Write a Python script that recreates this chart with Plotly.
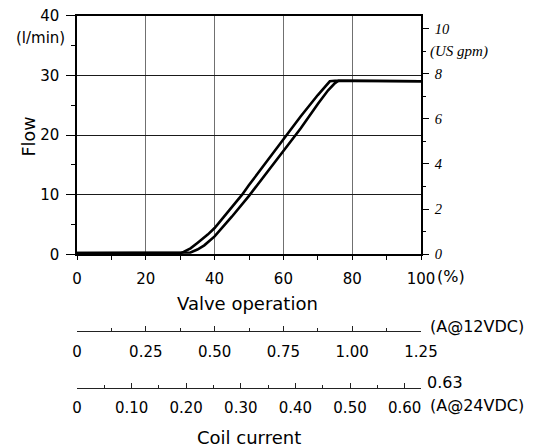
import plotly.graph_objects as go

# ---- data ----
valve_pct_up = [0, 10, 20, 30, 31, 33, 35, 38, 40, 45, 48, 50, 55, 60, 65, 70, 72, 73.5, 75, 80, 90, 100]
flow_up      = [0.2, 0.2, 0.2, 0.2, 0.4, 1.0, 1.9, 3.3, 4.4, 7.9, 10.0, 11.6, 15.5, 19.4, 23.1, 26.7, 28.1, 29.0, 29.1, 29.1, 29.0, 29.0]

valve_pct_dn = [0, 10, 20, 30, 33, 35, 37, 40, 45, 50, 55, 60, 65, 70, 73, 75, 76, 80, 90, 100]
flow_dn      = [0.2, 0.2, 0.2, 0.2, 0.3, 0.8, 1.5, 3.0, 6.3, 9.8, 13.6, 17.4, 21.1, 25.2, 27.5, 28.7, 29.1, 29.1, 29.0, 29.0]

x_ticks = [0, 20, 40, 60, 80, 100]
flow_ticks = [0, 10, 20, 30, 40]
gpm_ticks = [0, 2, 4, 6, 8, 10]
LPM_PER_GPM = 3.78541
flow_max = 40

amp12_ticks = [0, 0.25, 0.50, 0.75, 1.00, 1.25]
amp12_text = ["0", "0.25", "0.50", "0.75", "1.00", "1.25"]
amp12_max = 1.25
amp24_ticks = [0, 0.10, 0.20, 0.30, 0.40, 0.50, 0.60, 0.63]
amp24_text = ["0", "0.10", "0.20", "0.30", "0.40", "0.50", "0.60", ""]
amp24_minor = [0.05, 0.15, 0.25, 0.35, 0.45, 0.55]
amp24_max = 0.63

W, H = 541, 448
def px(x):
    return x / W
def py(y):
    return 1 - y / H

SANS = "DejaVu Sans, Verdana, sans-serif"
SERIF = "Liberation Serif, Times New Roman, serif"

fig = go.Figure()
for xs, ys in [(valve_pct_up, flow_up), (valve_pct_dn, flow_dn)]:
    fig.add_trace(go.Scatter(x=xs, y=ys, mode="lines",
                             line=dict(color="black", width=2.6),
                             showlegend=False, hoverinfo="skip"))

dom_x = [px(77), px(421)]

fig.update_layout(
    width=W, height=H,
    margin=dict(l=0, r=0, t=0, b=0, autoexpand=False),
    paper_bgcolor="white", plot_bgcolor="white",
    font=dict(family=SANS, color="black", size=15),
    xaxis=dict(domain=dom_x, range=[0, 100], tickvals=x_ticks,
               showline=True, linecolor="black", linewidth=1.5, mirror=True,
               ticks="outside", ticklen=4, tickcolor="black", tickwidth=1.2,
               minor=dict(dtick=10, ticks="outside", ticklen=4, tickcolor="black", tickwidth=1.2, showgrid=False),
               showgrid=True, gridcolor="#707070", gridwidth=1.4, zeroline=False,
               tickfont=dict(family=SANS, size=15), ticklabelstandoff=6,
               automargin=False, layer="below traces"),
    yaxis=dict(domain=[py(254.3), py(15.7)], range=[0, flow_max], tickvals=flow_ticks,
               showline=True, linecolor="black", linewidth=1.5,
               ticks="outside", ticklen=9, tickcolor="black", tickwidth=1.2,
               minor=dict(dtick=5, ticks="outside", ticklen=4, tickcolor="black", tickwidth=1.2, showgrid=False),
               showgrid=True, gridcolor="#1a1a1a", gridwidth=1, zeroline=False,
               tickfont=dict(family=SANS, size=15), ticklabelstandoff=4,
               automargin=False),
    yaxis2=dict(overlaying="y", side="right", anchor="x",
                range=[0, flow_max / LPM_PER_GPM], tickvals=gpm_ticks,
                showline=True, linecolor="black", linewidth=1.5,
                ticks="outside", ticklen=6, tickcolor="black", tickwidth=1.2,
                minor=dict(dtick=1, ticks="outside", ticklen=3, tickcolor="black", tickwidth=1.2, showgrid=False),
                showgrid=False, zeroline=False,
                tickfont=dict(family=SERIF, size=14.5, style="italic"), ticklabelstandoff=3,
                automargin=False),
    # thin invisible helper y-axes that carry the two coil-current scales
    yaxis3=dict(domain=[py(331.3), py(322)], visible=False, range=[0, 1], automargin=False),
    yaxis4=dict(domain=[py(388), py(379)], visible=False, range=[0, 1], automargin=False),
    xaxis2=dict(domain=dom_x, anchor="y3", range=[0, amp12_max],
                tickvals=amp12_ticks, ticktext=amp12_text,
                showline=True, linecolor="#222", linewidth=1.3,
                ticks="inside", ticklen=5, tickcolor="#222", tickwidth=1.3,
                minor=dict(dtick=0.125, ticks="inside", ticklen=3, tickcolor="#222", tickwidth=1.3, showgrid=False),
                showgrid=False, zeroline=False,
                tickfont=dict(family=SANS, size=15), ticklabelstandoff=7,
                automargin=False),
    xaxis3=dict(domain=dom_x, anchor="y4", range=[0, amp24_max],
                tickvals=amp24_ticks, ticktext=amp24_text,
                showline=True, linecolor="#222", linewidth=1.3,
                ticks="inside", ticklen=5, tickcolor="#222", tickwidth=1.3,
                minor=dict(tickvals=amp24_minor, ticks="inside",
                           ticklen=3, tickcolor="#222", tickwidth=1.3, showgrid=False),
                showgrid=False, zeroline=False,
                tickfont=dict(family=SANS, size=15), ticklabelstandoff=6,
                automargin=False),
)

# empty traces bind the coil-current scales to their helper axes
fig.add_trace(go.Scatter(x=[], y=[], xaxis="x2", yaxis="y3", showlegend=False))
fig.add_trace(go.Scatter(x=[], y=[], xaxis="x3", yaxis="y4", showlegend=False))

def ann(text, x, y, xanchor="left", size=15, family=SANS, **kw):
    fig.add_annotation(text=text, x=px(x), y=py(y), xref="paper", yref="paper",
                       xanchor=xanchor, yanchor="middle", showarrow=False,
                       font=dict(family=family, size=size, color="black"), **kw)

ann("(l/min)", 40, 38, xanchor="center", size=15)
ann("Flow", 28.5, 137, xanchor="center", size=17.5, textangle=-90)
ann("(%)", 435, 276, size=16)
ann("Valve operation", 248, 303.4, xanchor="center", size=18)
ann("(A@12VDC)", 428, 326.7, size=16)
ann("0.63", 425, 382.7, size=16)
ann("(A@24VDC)", 428, 405.7, size=16)
ann("Coil current", 248.5, 437, xanchor="center", size=18)

fig.add_annotation(text="(US gpm)", x=px(428), y=9, xref="paper", yref="y2",
                   xanchor="left", yanchor="middle", showarrow=False,
                   font=dict(family=SERIF, size=15, style="italic", color="black"))

fig.write_html("out.html",
               config={"displayModeBar": False},
               post_script="document.body.style.margin='0px';document.body.style.padding='0px';")
